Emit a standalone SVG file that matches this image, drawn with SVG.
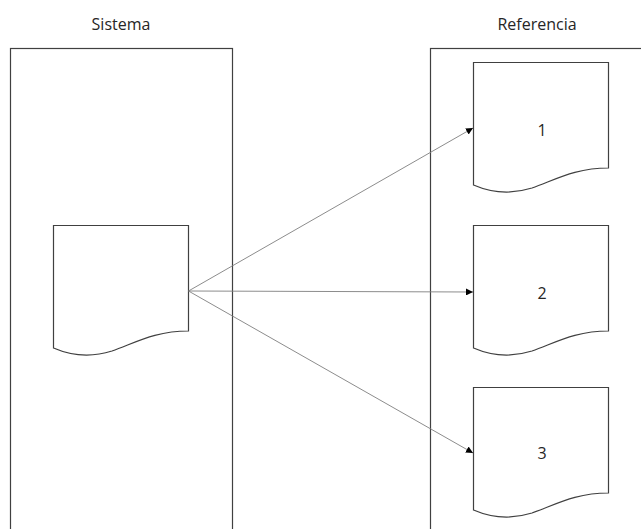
<svg xmlns="http://www.w3.org/2000/svg" width="641" height="529" viewBox="0 0 641 529">
<style>
.box{fill:#fff;stroke:#404040;stroke-width:1.2}
.doc{fill:#fff;stroke:#404040;stroke-width:1.2}
.t{font-family:"Open Sans","Liberation Sans",sans-serif;font-size:16px;fill:#262626;text-anchor:middle}
.c{stroke:#7f7f7f;stroke-width:0.9;fill:none;marker-end:url(#ah)}
</style>
<defs>
<marker id="ah" viewBox="0 0 10 10" refX="10" refY="5" markerWidth="7" markerHeight="7" markerUnits="userSpaceOnUse" orient="auto">
<path d="M0,0 L10,5 L0,10 Z" fill="#000"/>
</marker>
</defs>
<g id="sistema">
<rect class="box" x="10.5" y="48.5" width="222" height="500"/>
<text class="t" x="121" y="30">Sistema</text>
</g>
<g id="referencia">
<rect class="box" x="430.5" y="48.5" width="230" height="500"/>
<text class="t" x="537" y="30">Referencia</text>
</g>
<g id="doc0">
<path class="doc" d="M53.5,225.5 H188.5 V331 C155,331 135,343 112,351 C90,358 72,356 53.5,348 Z"/>
</g>
<g id="doc1">
<path class="doc" d="M473.5,62.5 H608.5 V168 C575,168 555,180 532,188 C510,195 492,193 473.5,185 Z"/>
<text class="t" x="542" y="136">1</text>
</g>
<g id="doc2">
<path class="doc" d="M473.5,225.5 H608.5 V331 C575,331 555,343 532,351 C510,358 492,356 473.5,348 Z"/>
<text class="t" x="542" y="299">2</text>
</g>
<g id="doc3">
<path class="doc" d="M473.5,387.5 H608.5 V493 C575,493 555,505 532,513 C510,520 492,518 473.5,510 Z"/>
<text class="t" x="542" y="459">3</text>
</g>
<g id="connectors">
<path class="c" d="M188.5,291 L473,128"/>
<path class="c" d="M188.5,291 L473,292"/>
<path class="c" d="M188.5,291 L473,453"/>
</g>
</svg>
